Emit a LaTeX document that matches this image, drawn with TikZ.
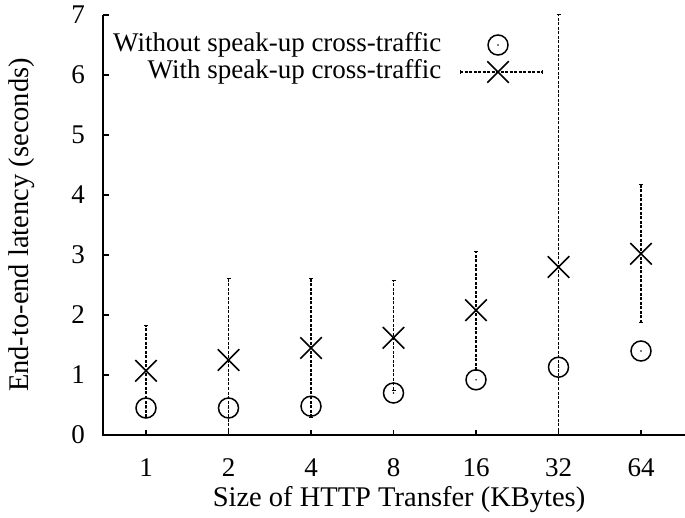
\documentclass[tikz,border=0pt]{standalone}
\usepackage{fontspec}
\setmainfont{Liberation Serif}
\usetikzlibrary{shapes.misc}
\begin{document}
\begin{tikzpicture}[x=82.5pt,y=60pt,
    nospeak/.style={draw, circle, line width=1.5pt, minimum size=20pt, inner sep=0pt},
    speak/.style={draw, cross out, line width=1.5pt, minimum size=20pt, inner sep=0pt},
    errbar/.style={line width=1.3pt, dash pattern=on 3pt off 1.5pt},
    axisline/.style={line width=2.5pt},
    ticklabel/.style={font=\fontsize{27}{27}\selectfont},
    axislabel/.style={font=\fontsize{28.5}{28.5}\selectfont}]
    \useasboundingbox (-0.7697,-1.3667) rectangle (7.5333,7.25);
    % Axes
    \coordinate (o) at (0.4788,0);
    \coordinate (top) at (0.4788,7);
    \coordinate (right) at (7.5333,0);
    \draw[axisline] (top) -- (o) -- (right);
    \foreach \v in {0,...,7} {
        \draw[line width=1.5pt] (0.4788,\v) -- ++(0.07,0);
        \node[ticklabel] (yl\v) at (0.176,\v) {\v};
    }
    \node[axislabel, rotate=90] (ylab) at (-0.503,3.5) {End-to-end latency (seconds)};
    \node[axislabel] (xlab) at (4.067,-1.08) {Size of HTTP Transfer (KBytes)};
    % Data
    \foreach \k/\lab/\c/\s/\lo/\hi in {1/1/0.45/1.07/0.3/1.83, 2/2/0.45/1.25/0/2.6,
        3/4/0.48/1.45/0.3/2.6, 4/8/0.7/1.62/0.75/2.58, 5/16/0.92/2.08/1.08/3.06,
        6/32/1.13/2.8/0/7.0, 7/64/1.4/3.02/1.87/4.17} {
        \draw[line width=1.5pt] (\k,0) -- ++(0,0.09);
        \node[ticklabel] (xl\k) at (\k,-0.55) {\lab};
        \coordinate (lo\k) at (\k,\lo);
        \coordinate (hi\k) at (\k,\hi);
        \draw[errbar] (lo\k) -- (hi\k);
        \draw[line width=1pt] ([xshift=-2pt]hi\k) -- ([xshift=2pt]hi\k);
        \draw[line width=1pt] ([xshift=-2pt]lo\k) -- ([xshift=2pt]lo\k);
        \node[nospeak] (c\k) at (\k,\c) {};
        \fill (c\k) circle (0.8pt);
        \node[speak] (s\k) at (\k,\s) {};
    }
    % Legend
    \node[ticklabel, anchor=east] (l1) at (4.624,6.5) {Without speak-up cross-traffic};
    \node[nospeak] (lc) at (5.267,6.5) {};
    \fill (lc) circle (0.8pt);
    \node[ticklabel, anchor=east] (l2) at (4.624,6.05) {With speak-up cross-traffic};
    \coordinate (ll) at (4.806,6.05);
    \coordinate (lr) at (5.812,6.05);
    \draw[errbar] (ll) -- (lr);
    \draw[line width=1pt] ([yshift=-2pt]ll) -- ([yshift=2pt]ll);
    \draw[line width=1pt] ([yshift=-2pt]lr) -- ([yshift=2pt]lr);
    \node[speak] (ls) at (5.267,6.05) {};
\end{tikzpicture}
\end{document}
